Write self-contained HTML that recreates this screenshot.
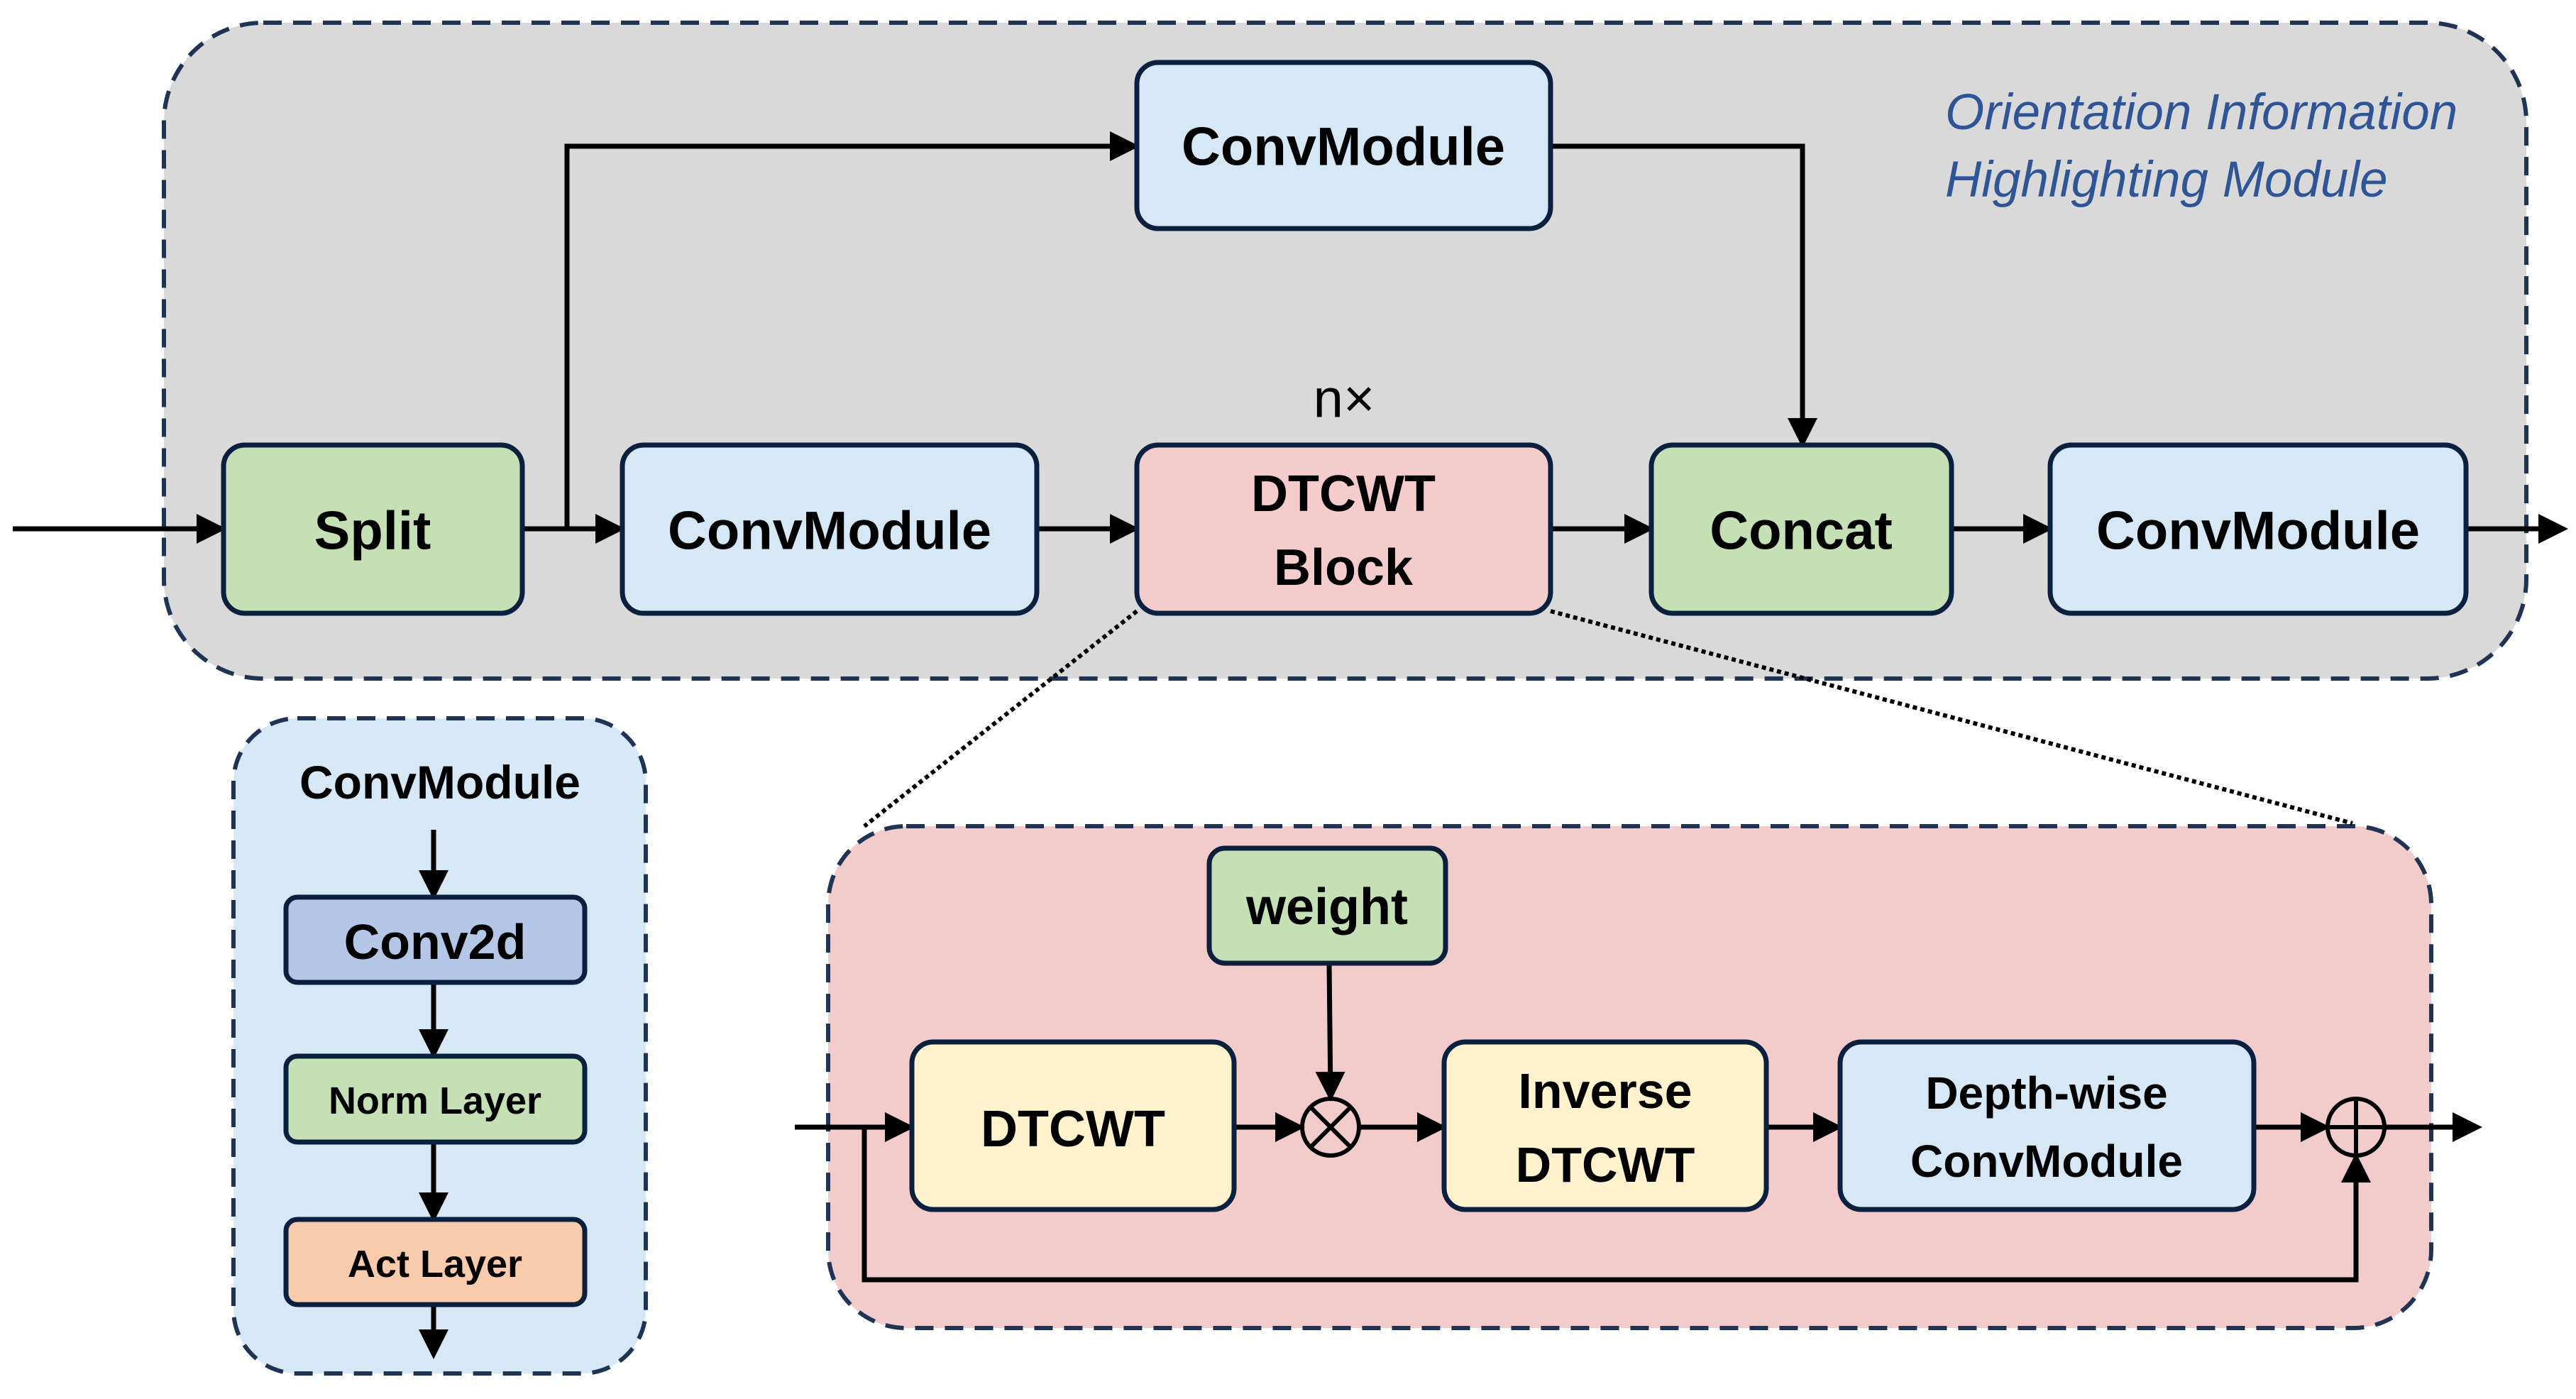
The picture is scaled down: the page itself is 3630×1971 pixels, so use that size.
<!DOCTYPE html>
<html><head><meta charset="utf-8"><style>html,body{margin:0;padding:0;background:#fff}svg{display:block}</style></head>
<body>
<svg width="3630" height="1971" viewBox="0 0 3630 1971" xmlns="http://www.w3.org/2000/svg" font-family="'Liberation Sans', sans-serif">
<defs>
<marker id="ah" markerWidth="6" markerHeight="6" refX="5" refY="3" orient="auto" markerUnits="strokeWidth">
<path d="M0,0 L6,3 L0,6 z" fill="#000"/>
</marker>
</defs>
<rect x="231" y="32" width="3329" height="924" rx="140" fill="#d9d9d9" stroke="#1f3354" stroke-width="6" stroke-dasharray="26 16"/>
<rect x="329" y="1012" width="581" height="923" rx="90" fill="#d6e8f5" stroke="#1f3354" stroke-width="6" stroke-dasharray="26 16"/>
<rect x="1167" y="1164" width="2259" height="707" rx="110" fill="#f2cbcb" stroke="#1f3354" stroke-width="6" stroke-dasharray="26 16"/>
<line x1="1602" y1="861" x2="1218" y2="1164" stroke="#000" stroke-width="6" stroke-dasharray="6 5"/>
<line x1="2185" y1="861" x2="3315" y2="1160" stroke="#000" stroke-width="6" stroke-dasharray="6 5"/>

<g stroke="#000" stroke-width="7" fill="none">
<line x1="18" y1="745" x2="312" y2="745" marker-end="url(#ah)"/>
<line x1="736" y1="745" x2="874" y2="745" marker-end="url(#ah)"/>
<polyline points="799,745 799,206 1599,206" marker-end="url(#ah)"/>
<line x1="1461" y1="745" x2="1599" y2="745" marker-end="url(#ah)"/>
<line x1="2185" y1="745" x2="2324" y2="745" marker-end="url(#ah)"/>
<polyline points="2185,206 2540,206 2540,624" marker-end="url(#ah)"/>
<line x1="2750" y1="745" x2="2886" y2="745" marker-end="url(#ah)"/>
<line x1="3475" y1="745" x2="3612" y2="745" marker-end="url(#ah)"/>
<line x1="611" y1="1169" x2="611" y2="1261" marker-end="url(#ah)"/>
<line x1="611" y1="1384" x2="611" y2="1485" marker-end="url(#ah)"/>
<line x1="611" y1="1609" x2="611" y2="1715" marker-end="url(#ah)"/>
<line x1="611" y1="1838" x2="611" y2="1908" marker-end="url(#ah)"/>
<line x1="1120" y1="1588" x2="1282" y2="1588" marker-end="url(#ah)"/>
<line x1="1739" y1="1588" x2="1832" y2="1588" marker-end="url(#ah)"/>
<line x1="1873" y1="1357" x2="1875" y2="1545" marker-end="url(#ah)"/>
<line x1="1915" y1="1588" x2="2032" y2="1588" marker-end="url(#ah)"/>
<line x1="2489" y1="1588" x2="2590" y2="1588" marker-end="url(#ah)"/>
<line x1="3176" y1="1588" x2="3277" y2="1588" marker-end="url(#ah)"/>
<line x1="3360" y1="1588" x2="3491" y2="1588" marker-end="url(#ah)"/>
<polyline points="1218,1588 1218,1803 3320,1803 3320,1631" marker-end="url(#ah)"/>
</g>

<g stroke="#0b1f3f" stroke-width="7">
<rect x="315" y="627" width="421" height="237" rx="30" fill="#c5e0b4"/>
<rect x="877" y="627" width="584" height="237" rx="30" fill="#d6e8f5"/>
<rect x="1602" y="627" width="583" height="237" rx="30" fill="#f4cccc"/>
<rect x="2327" y="627" width="423" height="237" rx="30" fill="#c5e0b4"/>
<rect x="2889" y="627" width="586" height="237" rx="30" fill="#d6e8f5"/>
<rect x="1602" y="88" width="583" height="234" rx="30" fill="#d6e8f5"/>
<rect x="403" y="1264" width="421" height="120" rx="16" fill="#b4c7e7"/>
<rect x="403" y="1488" width="421" height="121" rx="16" fill="#c5e0b4"/>
<rect x="403" y="1718" width="421" height="120" rx="16" fill="#f8cbad"/>
<rect x="1285" y="1468" width="454" height="236" rx="30" fill="#fff2cc"/>
<rect x="1704" y="1195" width="333" height="162" rx="22" fill="#c5e0b4"/>
<rect x="2035" y="1468" width="454" height="236" rx="30" fill="#fff2cc"/>
<rect x="2593" y="1468" width="583" height="236" rx="30" fill="#d6e8f5"/>
</g>
<g stroke="#000" stroke-width="6" fill="none">
<circle cx="1875" cy="1588" r="40"/>
<line x1="1847" y1="1560" x2="1903" y2="1616"/>
<line x1="1903" y1="1560" x2="1847" y2="1616"/>
<circle cx="3320" cy="1588" r="40"/>
<line x1="3280" y1="1588" x2="3360" y2="1588"/>
<line x1="3320" y1="1548" x2="3320" y2="1628"/>
</g>

<g font-weight="bold" fill="#000" text-anchor="middle" dominant-baseline="central">
<text x="525" y="748" font-size="76">Split</text>
<text x="1169" y="748" font-size="76">ConvModule</text>
<text x="1893" y="207" font-size="76">ConvModule</text>
<text x="1893" y="696" font-size="72">DTCWT</text>
<text x="1893" y="800" font-size="72">Block</text>
<text x="2538" y="748" font-size="76">Concat</text>
<text x="3182" y="748" font-size="76">ConvModule</text>
<text x="620" y="1102" font-size="66">ConvModule</text>
<text x="613" y="1327" font-size="70">Conv2d</text>
<text x="613" y="1551" font-size="54">Norm Layer</text>
<text x="613" y="1781" font-size="54">Act Layer</text>
<text x="1512" y="1591" font-size="72">DTCWT</text>
<text x="1870" y="1278" font-size="72">weight</text>
<text x="2262" y="1537" font-size="70">Inverse</text>
<text x="2262" y="1641" font-size="70">DTCWT</text>
<text x="2884" y="1540" font-size="64">Depth-wise</text>
<text x="2884" y="1636" font-size="64">ConvModule</text>
</g>
<text x="1894" y="562" font-size="76" text-anchor="middle" dominant-baseline="central" fill="#000">n×</text>
<g font-style="italic" fill="#2f5597" font-size="71">
<text x="2741" y="182">Orientation Information</text>
<text x="2741" y="277">Highlighting Module</text>
</g>
</svg>
</body></html>
